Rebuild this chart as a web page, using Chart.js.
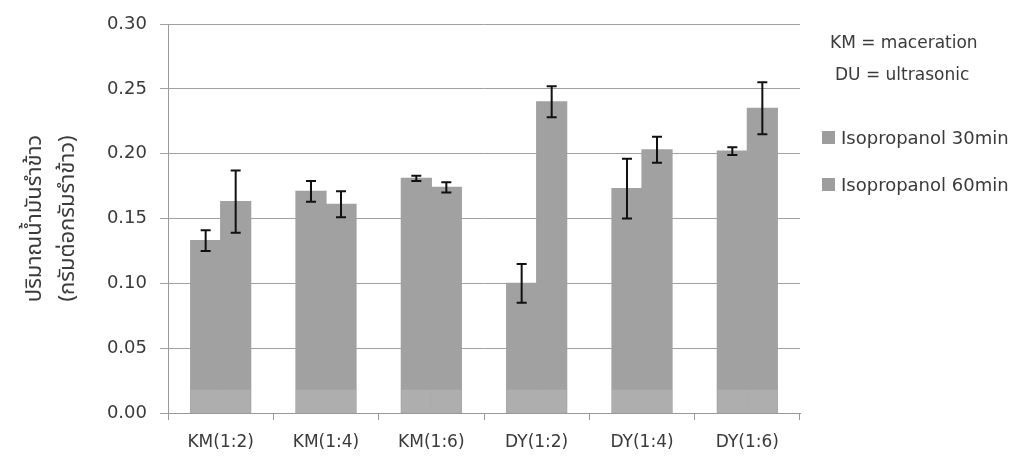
<!DOCTYPE html>
<html>
<head>
<meta charset="utf-8">
<script src="https://cdn.jsdelivr.net/npm/chart.js@4.4.1/dist/chart.umd.min.js"></script>
<style>
  html, body { margin: 0; padding: 0; background: #ffffff; }
  #wrap { position: relative; width: 1021px; height: 469px; }
  #c { position: absolute; left: 0; top: 0; }
  .note { position: absolute; font-family: "DejaVu Sans", sans-serif; font-size: 17px; color: #3a3a3a; line-height: 20px; white-space: nowrap; }
  .leg { position: absolute; font-family: "DejaVu Sans", sans-serif; font-size: 18px; color: #3a3a3a; line-height: 20px; white-space: nowrap; }
  .sw { position: absolute; width: 13px; height: 13px; background: #9d9d9d; }
</style>
</head>
<body>
<div id="wrap">
  <canvas id="c" width="1021" height="469"></canvas>
  <div class="note" style="left:830px; top:32px;">KM = maceration</div>
  <div class="note" style="left:835px; top:64px;">DU = ultrasonic</div>
  <div class="sw" style="left:822px; top:131px;"></div>
  <div class="leg" style="left:841px; top:128px;">Isopropanol 30min</div>
  <div class="sw" style="left:822px; top:178px;"></div>
  <div class="leg" style="left:841px; top:175px;">Isopropanol 60min</div>
</div>
<script>
const categories = ["KM(1:2)", "KM(1:4)", "KM(1:6)", "DY(1:2)", "DY(1:4)", "DY(1:6)"];
const seriesNames = ["Isopropanol 30min", "Isopropanol 60min"];
const iso30 = [0.133, 0.171, 0.181, 0.100, 0.173, 0.202];
const iso30Err = [0.008, 0.008, 0.002, 0.015, 0.023, 0.003];
const iso60 = [0.163, 0.161, 0.174, 0.240, 0.203, 0.235];
const iso60Err = [0.024, 0.010, 0.004, 0.012, 0.010, 0.020];
const yTicks = [0.00, 0.05, 0.10, 0.15, 0.20, 0.25, 0.30];
const bandTop = 0.018;
const yTitle = ["ปริมาณน้ำมันรำข้าว", "(กรัมต่อกรัมรำข้าว)"];

const errors = [iso30Err, iso60Err];

const bottomBand = {
  id: 'bottomBand',
  afterDatasetsDraw(chart) {
    const ctx = chart.ctx;
    const y = chart.scales.y;
    ctx.save();
    chart.data.datasets.forEach((ds, di) => {
      chart.getDatasetMeta(di).data.forEach((bar) => {
        const yt = y.getPixelForValue(bandTop);
        const yb = y.getPixelForValue(0);
        ctx.fillStyle = 'rgba(255,255,255,0.14)';
        ctx.fillRect(bar.x - bar.width / 2, yt, bar.width, yb - yt);
      });
    });
    ctx.restore();
  }
};

const errorBars = {
  id: 'errorBars',
  afterDatasetsDraw(chart) {
    const ctx = chart.ctx;
    const y = chart.scales.y;
    ctx.save();
    ctx.strokeStyle = '#111111';
    ctx.lineWidth = 2;
    chart.data.datasets.forEach((ds, di) => {
      chart.getDatasetMeta(di).data.forEach((bar, i) => {
        const v = ds.data[i];
        const e = errors[di][i];
        const yHi = y.getPixelForValue(v + e);
        const yLo = y.getPixelForValue(v - e);
        const cap = 5;
        ctx.beginPath();
        ctx.moveTo(bar.x, yHi); ctx.lineTo(bar.x, yLo);
        ctx.moveTo(bar.x - cap, yHi); ctx.lineTo(bar.x + cap, yHi);
        ctx.moveTo(bar.x - cap, yLo); ctx.lineTo(bar.x + cap, yLo);
        ctx.stroke();
      });
    });
    ctx.restore();
  }
};

new Chart(document.getElementById('c'), {
  type: 'bar',
  data: {
    labels: categories,
    datasets: [
      { label: seriesNames[0], data: iso30, backgroundColor: '#a1a1a1', borderWidth: 0, inflateAmount: 0.6 },
      { label: seriesNames[1], data: iso60, backgroundColor: '#a1a1a1', borderWidth: 0, inflateAmount: 0.6 }
    ]
  },
  options: {
    responsive: false,
    animation: false,
    devicePixelRatio: 1,
    layout: { padding: { left: 0, right: 221, top: 24, bottom: 0 } },
    plugins: { legend: { display: false }, tooltip: { enabled: false } },
    datasets: { bar: { barPercentage: 1.0, categoryPercentage: 0.57 } },
    scales: {
      x: {
        grid: { display: true, drawOnChartArea: false, drawTicks: true, tickLength: 7, color: '#999999', offset: true },
        border: { display: true, color: '#999999', width: 1 },
        ticks: { color: '#3a3a3a', font: { family: 'DejaVu Sans', size: 17 }, padding: 12, maxRotation: 0 },
        afterFit(scale) { scale.height = 56; }
      },
      y: {
        min: 0, max: 0.3,
        afterBuildTicks(scale) { scale.ticks = yTicks.map(v => ({ value: v })); },
        grid: { color: '#a0a0a0', lineWidth: 1, drawTicks: true, tickLength: 8 },
        border: { display: true, color: '#999999', width: 1 },
        ticks: {
          color: '#3a3a3a', font: { family: 'DejaVu Sans', size: 18 }, padding: 13,
          callback: (v) => Number(v).toFixed(2)
        },
        title: {
          display: true, text: yTitle, color: '#3a3a3a',
          font: { family: '"Noto Sans Thai", "Noto Sans", "DejaVu Sans", sans-serif', size: 22, lineHeight: 1.5 },
          padding: { top: 20, bottom: 0 }
        },
        afterFit(scale) { scale.width = 168; }
      }
    }
  },
  plugins: [bottomBand, errorBars]
});
</script>
</body>
</html>
